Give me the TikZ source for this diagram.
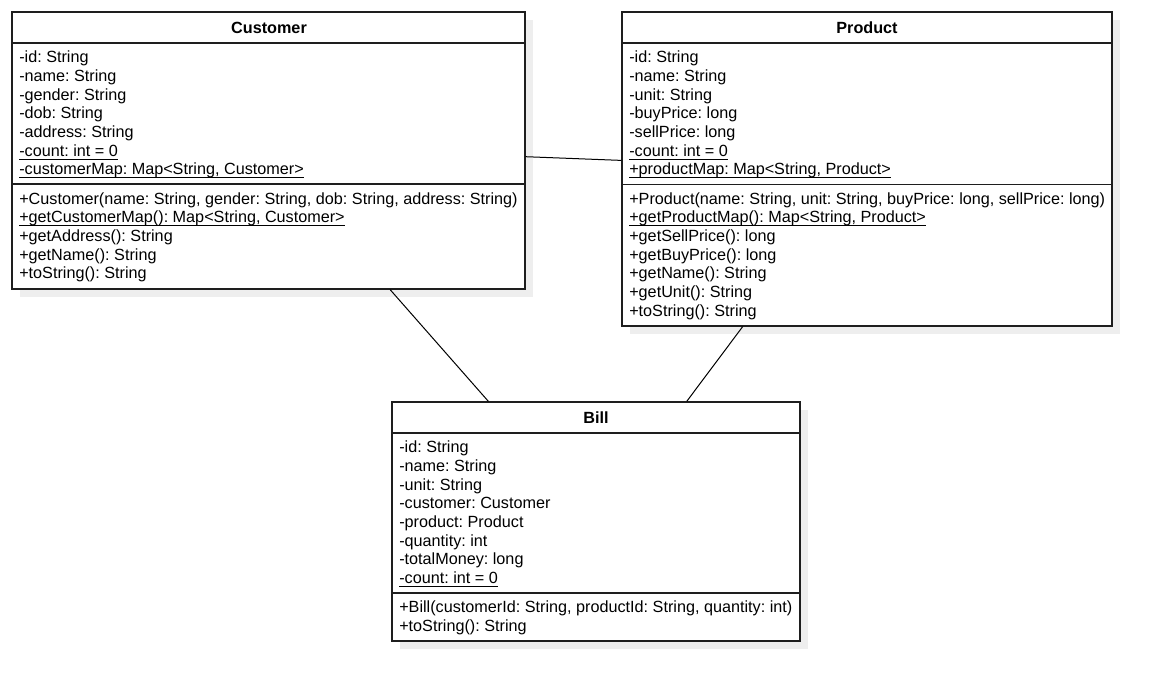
\documentclass[tikz,border=0pt]{standalone}
\usepackage{fontspec}
\setmainfont{Liberation Sans}
\usetikzlibrary{fit,calc}
\frenchspacing
\newcommand\myul[1]{\setbox0\hbox{#1}\rlap{\rule[-2.6pt]{\wd0}{0.65pt}}\box0}
\definecolor{shadowc}{RGB}{238,238,238}
\definecolor{edgec}{RGB}{30,30,30}
\begin{document}
\begin{tikzpicture}[x=0.75pt,y=-0.75pt,
  classbox/.style={draw=edgec, line width=0.9pt, inner sep=0pt, fill=white},
  sepline/.style={draw=edgec, line width=0.9pt},
  shadowfill/.style={fill=shadowc},
  txt/.style={anchor=base west, inner sep=0pt, font=\fontsize{12.15pt}{14pt}\selectfont\frenchspacing},
  hdr/.style={inner sep=0pt, font=\fontsize{12.15pt}{14pt}\selectfont\bfseries},
  conn/.style={draw=black, line width=0.75pt}]
\useasboundingbox (0,0) rectangle (1162,691);
\fill[white] (0,0) rectangle (1162,691);
% shadows
\fill[shadowfill] (20,20) rectangle (533,297);
\fill[shadowfill] (630,20) rectangle (1120,334);
\fill[shadowfill] (400,410) rectangle (808,649);
% boxes
\node[classbox, fit={(12,12) (525,289)}] (cust) {};
\node[classbox, fit={(622,12) (1112,326)}] (prod) {};
\node[classbox, fit={(392,402) (800,641)}] (bill) {};
% separators
\draw[sepline] (cust.west |- 0,43) -- (cust.east |- 0,43);
\draw[sepline] (cust.west |- 0,184) -- (cust.east |- 0,184);
\draw[sepline] (prod.west |- 0,43) -- (prod.east |- 0,43);
\draw[sepline] (prod.west |- 0,184.5) -- (prod.east |- 0,184.5);
\draw[sepline] (bill.west |- 0,433) -- (bill.east |- 0,433);
\draw[sepline] (bill.west |- 0,593) -- (bill.east |- 0,593);
% headers
\node[hdr] (custh) at (269,28) {Customer};
\node[hdr] (prodh) at (867,28) {Product};
\node[hdr] (billh) at (596,418) {Bill};
% Customer
\foreach \t [count=\i] in {-id: String, -name: String, -gender: String, -dob: String, -address: String, \myul{-count: int = 0}, {\myul{-customerMap: Map<String, Customer>}}}
  \node[txt] (ca\i) at (19,{62.8+(\i-1)*18.67}) {\t};
\foreach \t [count=\i] in {{+Customer(name: String, gender: String, dob: String, address: String)}, {\myul{+getCustomerMap(): Map<String, Customer>}}, +getAddress(): String, +getName(): String, +toString(): String}
  \node[txt] (cm\i) at (19,{204.2+(\i-1)*18.67}) {\t};
% Product
\foreach \t [count=\i] in {-id: String, -name: String, -unit: String, -buyPrice: long, -sellPrice: long, \myul{-count: int = 0}, {\myul{+productMap: Map<String, Product>}}}
  \node[txt] (pa\i) at (629,{62.8+(\i-1)*18.67}) {\t};
\foreach \t [count=\i] in {{+Product(name: String, unit: String, buyPrice: long, sellPrice: long)}, {\myul{+getProductMap(): Map<String, Product>}}, +getSellPrice(): long, +getBuyPrice(): long, +getName(): String, +getUnit(): String, +toString(): String}
  \node[txt] (pm\i) at (629,{204.2+(\i-1)*18.67}) {\t};
% Bill
\foreach \t [count=\i] in {-id: String, -name: String, -unit: String, -customer: Customer, -product: Product, -quantity: int, -totalMoney: long, \myul{-count: int = 0}}
  \node[txt] (ba\i) at (399,{452.8+(\i-1)*18.67}) {\t};
\foreach \t [count=\i] in {{+Bill(customerId: String, productId: String, quantity: int)}, +toString(): String}
  \node[txt] (bm\i) at (399,{612.2+(\i-1)*19}) {\t};
% connectors
\draw[conn] ($(cust.north east)+(0,145.3)$) -- ($(prod.north west)+(0,149)$);
\draw[conn] ($(cust.south west)+(378.7,0)$) -- ($(bill.north west)+(97,0)$);
\draw[conn] ($(prod.south west)+(121.3,0)$) -- ($(bill.north west)+(295.3,0)$);
\end{tikzpicture}
\end{document}
